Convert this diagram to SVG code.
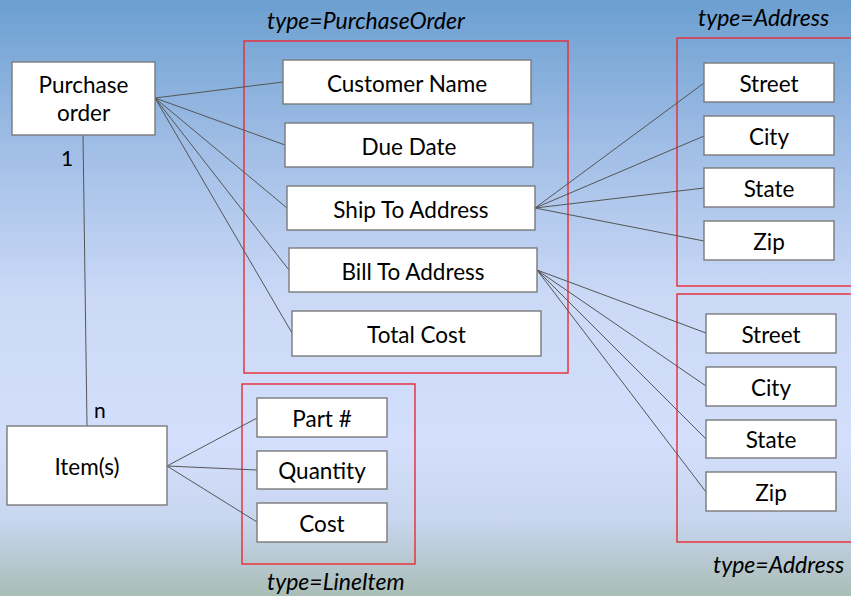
<svg xmlns="http://www.w3.org/2000/svg" width="851" height="596" viewBox="0 0 851 596">
  <defs>
    <linearGradient id="bg" x1="0" y1="0" x2="0" y2="1">
      <stop offset="0" stop-color="#6b9fd0"/>
      <stop offset="0.25" stop-color="#a1bee6"/>
      <stop offset="0.5" stop-color="#cbd9f7"/>
      <stop offset="0.74" stop-color="#d3dffc"/>
      <stop offset="0.87" stop-color="#c9d6f0"/>
      <stop offset="1" stop-color="#a9bdb6"/>
    </linearGradient>
    <style>
      .box { fill: #ffffff; stroke: #7a7a7a; stroke-width: 1.4; }
      .group { fill: none; stroke: #ec2a32; stroke-width: 1.4; }
      .label { font-family: Lato, "Liberation Sans", sans-serif; font-size: 22.5px; fill: #000000; text-anchor: middle; }
      .type { font-family: Lato, "Liberation Sans", sans-serif; font-size: 23px; font-style: italic; fill: #000000; }
      .card { font-family: Lato, "Liberation Sans", sans-serif; font-size: 21px; fill: #000000; }
      .conn line { stroke: #555555; stroke-width: 1; }
    </style>
  </defs>

  <rect x="0" y="0" width="851" height="596" fill="url(#bg)"/>

  <!-- type containers -->
  <g id="containers">
    <rect class="group" x="244" y="41" width="324" height="332"/>
    <rect class="group" x="677" y="38" width="190" height="248"/>
    <rect class="group" x="677" y="294" width="190" height="248"/>
    <rect class="group" x="242" y="384" width="173" height="180"/>
    <text class="type" x="267" y="29">type=PurchaseOrder</text>
    <text class="type" x="698" y="26">type=Address</text>
    <text class="type" x="713" y="573">type=Address</text>
    <text class="type" x="267" y="590">type=LineItem</text>
  </g>

  <!-- connectors -->
  <g id="connectors" class="conn">
    <line x1="155" y1="98" x2="283" y2="82"/>
    <line x1="155" y1="98" x2="285" y2="145"/>
    <line x1="155" y1="98" x2="287" y2="208"/>
    <line x1="155" y1="98" x2="289" y2="270"/>
    <line x1="155" y1="98" x2="292" y2="333"/>
    <line x1="535" y1="208" x2="704" y2="83"/>
    <line x1="535" y1="208" x2="704" y2="136"/>
    <line x1="535" y1="208" x2="704" y2="188"/>
    <line x1="535" y1="208" x2="704" y2="241"/>
    <line x1="537" y1="270" x2="706" y2="333"/>
    <line x1="537" y1="270" x2="706" y2="386"/>
    <line x1="537" y1="270" x2="706" y2="439"/>
    <line x1="537" y1="270" x2="706" y2="492"/>
    <line x1="83" y1="135" x2="87" y2="426"/>
    <line x1="167" y1="466" x2="257" y2="418"/>
    <line x1="167" y1="466" x2="257" y2="470"/>
    <line x1="167" y1="466" x2="257" y2="522"/>
  </g>

  <!-- multiplicities -->
  <g id="multiplicity">
    <text class="card" x="61" y="166">1</text>
    <text class="card" x="94" y="418">n</text>
  </g>

  <g id="purchase-order">
    <rect class="box" x="12" y="62" width="143" height="73"/>
    <text class="label" x="83.5" y="93">Purchase</text>
    <text class="label" x="83.5" y="121">order</text>
  </g>

  <g id="customer-name">
    <rect class="box" x="283" y="60" width="248" height="44"/>
    <text class="label" x="407" y="91.5">Customer Name</text>
  </g>
  <g id="due-date">
    <rect class="box" x="285" y="123" width="248" height="44"/>
    <text class="label" x="409" y="154.5">Due Date</text>
  </g>
  <g id="ship-to-address">
    <rect class="box" x="287" y="186" width="248" height="44"/>
    <text class="label" x="411" y="217.5">Ship To Address</text>
  </g>
  <g id="bill-to-address">
    <rect class="box" x="289" y="248" width="248" height="44"/>
    <text class="label" x="413" y="279.5">Bill To Address</text>
  </g>
  <g id="total-cost">
    <rect class="box" x="292" y="311" width="249" height="45"/>
    <text class="label" x="416.5" y="342.5">Total Cost</text>
  </g>

  <g id="ship-street">
    <rect class="box" x="704" y="63" width="130" height="39"/>
    <text class="label" x="769" y="92">Street</text>
  </g>
  <g id="ship-city">
    <rect class="box" x="704" y="116" width="130" height="39"/>
    <text class="label" x="769" y="145">City</text>
  </g>
  <g id="ship-state">
    <rect class="box" x="704" y="168" width="130" height="39"/>
    <text class="label" x="769" y="197">State</text>
  </g>
  <g id="ship-zip">
    <rect class="box" x="704" y="221" width="130" height="39"/>
    <text class="label" x="769" y="250">Zip</text>
  </g>

  <g id="bill-street">
    <rect class="box" x="706" y="314" width="130" height="39"/>
    <text class="label" x="771" y="343">Street</text>
  </g>
  <g id="bill-city">
    <rect class="box" x="706" y="367" width="130" height="39"/>
    <text class="label" x="771" y="396">City</text>
  </g>
  <g id="bill-state">
    <rect class="box" x="706" y="420" width="130" height="38"/>
    <text class="label" x="771" y="448">State</text>
  </g>
  <g id="bill-zip">
    <rect class="box" x="706" y="472" width="130" height="39"/>
    <text class="label" x="771" y="501">Zip</text>
  </g>

  <g id="items">
    <rect class="box" x="7" y="426" width="160" height="79"/>
    <text class="label" x="87" y="475">Item(s)</text>
  </g>
  <g id="part-number">
    <rect class="box" x="257" y="398" width="130" height="39"/>
    <text class="label" x="322" y="427">Part #</text>
  </g>
  <g id="quantity">
    <rect class="box" x="257" y="451" width="130" height="38"/>
    <text class="label" x="322" y="479">Quantity</text>
  </g>
  <g id="cost">
    <rect class="box" x="257" y="503" width="130" height="39"/>
    <text class="label" x="322" y="532">Cost</text>
  </g>
</svg>
